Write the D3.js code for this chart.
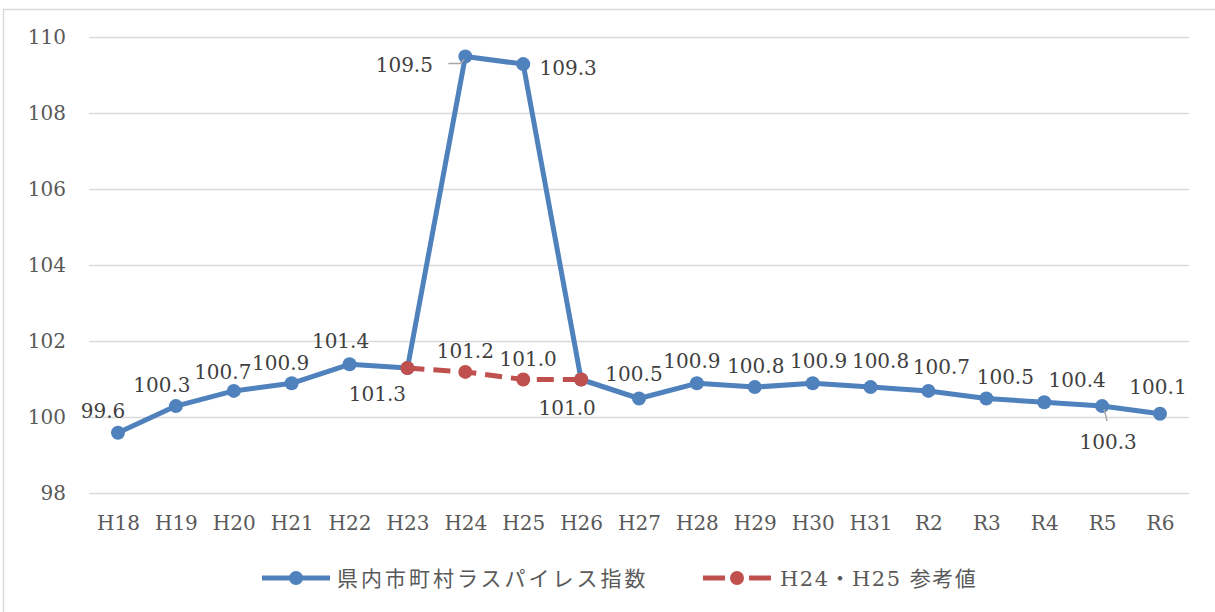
<!DOCTYPE html>
<html>
<head>
<meta charset="utf-8">
<script src="https://cdn.jsdelivr.net/npm/d3@7"></script>
<style>
  html, body { margin: 0; padding: 0; background: #fff; }
  svg { display: block; }
</style>
</head>
<body>
<div id="chart"></div>
<script>
const categories = ["H18", "H19", "H20", "H21", "H22", "H23", "H24", "H25", "H26", "H27",
  "H28", "H29", "H30", "H31", "R2", "R3", "R4", "R5", "R6"];
const mainValues = [99.6, 100.3, 100.7, 100.9, 101.4, 101.3, 109.5, 109.3, 101.0, 100.5,
  100.9, 100.8, 100.9, 100.8, 100.7, 100.5, 100.4, 100.3, 100.1];
const refCategories = ["H23", "H24", "H25", "H26"];
const refValues = [101.3, 101.2, 101.0, 101.0];
const yTicks = [98, 100, 102, 104, 106, 108, 110];
const seriesNames = ["県内市町村ラスパイレス指数", "H24・H25 参考値"];

// label offsets from the point (placement only)
const mainLabelOffsets = [
  [-15, -15], [-14, -14], [-11, -12], [-11, -13], [-9, -16], [-30, 33],
  [-61, 15], [45, 11], [-14, 35], [-5, -18], [-5, -15], [1, -14],
  [6, -15], [10, -19], [13, -17], [19, -15], [33, -15], [6, 43], [-2, -20]
];
const refLabelOffsets = [null, [0, -14], [5, -14], null];

const width = 1215, height = 612;
const blue = "#4f81bd", red = "#c0504d";
const axisColor = "#595959", labelColor = "#404040";
const font = "'DejaVu Serif', 'Noto Sans CJK JP', serif";

const svg = d3.select("#chart").append("svg")
  .attr("width", width).attr("height", height)
  .style("font-family", font);

// chart area border
svg.append("rect")
  .attr("x", 3.5).attr("y", 9.5)
  .attr("width", 1240).attr("height", 640)
  .attr("fill", "none").attr("stroke", "#d9d9d9").attr("stroke-width", 1.5);

const x = d3.scalePoint().domain(categories).range([118, 1160]);
const y = d3.scaleLinear().domain([98, 110]).range([493.5, 37.5]);

// gridlines
svg.append("g").selectAll("line").data(yTicks).join("line")
  .attr("x1", 89).attr("x2", 1189)
  .attr("y1", (d) => y(d)).attr("y2", (d) => y(d))
  .attr("stroke", "#d9d9d9").attr("stroke-width", 1.5);

// y axis
const yAxis = svg.append("g")
  .attr("transform", "translate(66,0)")
  .call(d3.axisLeft(y).tickValues(yTicks).tickSize(0).tickPadding(0));
yAxis.select(".domain").remove();
yAxis.selectAll("text")
  .attr("fill", axisColor).style("font-size", "20px").style("font-family", font);

// x axis
const xAxis = svg.append("g")
  .attr("transform", "translate(0,516)")
  .call(d3.axisBottom(x).tickSize(0).tickPadding(0));
xAxis.select(".domain").remove();
xAxis.selectAll("text")
  .attr("fill", axisColor).style("font-size", "20px").style("font-family", font);

const mainData = categories.map((c, i) => ({ c, v: mainValues[i], off: mainLabelOffsets[i] }));
const refData = refCategories.map((c, i) => ({ c, v: refValues[i], off: refLabelOffsets[i] }));

const line = d3.line().x((d) => x(d.c)).y((d) => y(d.v));

svg.append("path").datum(mainData)
  .attr("d", line).attr("fill", "none")
  .attr("stroke", blue).attr("stroke-width", 5).attr("stroke-linejoin", "round");

svg.append("g").selectAll("circle").data(mainData).join("circle")
  .attr("cx", (d) => x(d.c)).attr("cy", (d) => y(d.v)).attr("r", 7)
  .attr("fill", blue);

svg.append("path").datum(refData)
  .attr("d", line).attr("fill", "none")
  .attr("stroke", red).attr("stroke-width", 5).attr("stroke-dasharray", "17,9");

svg.append("g").selectAll("circle").data(refData).join("circle")
  .attr("cx", (d) => x(d.c)).attr("cy", (d) => y(d.v)).attr("r", 7)
  .attr("fill", red);

// leader lines for moved labels
const leaders = [
  { c: "H24", v: 109.5, pts: [[-17, 7], [-5, 7], [-1, 3]] },
  { c: "R5", v: 100.3, pts: [[2, 3], [5, 15]] }
];
leaders.forEach((l) => {
  svg.append("polyline")
    .attr("points", l.pts.map((p) => [x(l.c) + p[0], y(l.v) + p[1]].join(",")).join(" "))
    .attr("fill", "none").attr("stroke", "#a6a6a6").attr("stroke-width", 1.5);
});

// data labels
function addLabels(data) {
  svg.append("g").selectAll("text").data(data.filter((d) => d.off)).join("text")
    .attr("x", (d) => x(d.c) + d.off[0])
    .attr("y", (d) => y(d.v) + d.off[1])
    .attr("text-anchor", "middle")
    .attr("fill", labelColor)
    .style("font-size", "20px")
    .text((d) => d.v.toFixed(1));
}
addLabels(mainData);
addLabels(refData);

// legend
const legend = svg.append("g").attr("transform", "translate(0,578)");
const blueItem = legend.append("g").attr("transform", "translate(262,0)");
blueItem.append("line").attr("x1", 0).attr("x2", 68)
  .attr("stroke", blue).attr("stroke-width", 5);
blueItem.append("circle").attr("cx", 34).attr("r", 7).attr("fill", blue);
blueItem.append("text").attr("x", 75).attr("dy", "0.36em")
  .attr("fill", axisColor).style("font-size", "21px").style("letter-spacing", "3px")
  .text(seriesNames[0]);

const redItem = legend.append("g").attr("transform", "translate(703,0)");
redItem.append("line").attr("x1", 0).attr("x2", 68)
  .attr("stroke", red).attr("stroke-width", 5).attr("stroke-dasharray", "22,24");
redItem.append("circle").attr("cx", 34).attr("r", 7).attr("fill", red);
redItem.append("text").attr("x", 77).attr("dy", "0.36em")
  .attr("fill", axisColor).style("font-size", "21px").style("letter-spacing", "1.5px")
  .text(seriesNames[1]);
</script>
</body>
</html>
